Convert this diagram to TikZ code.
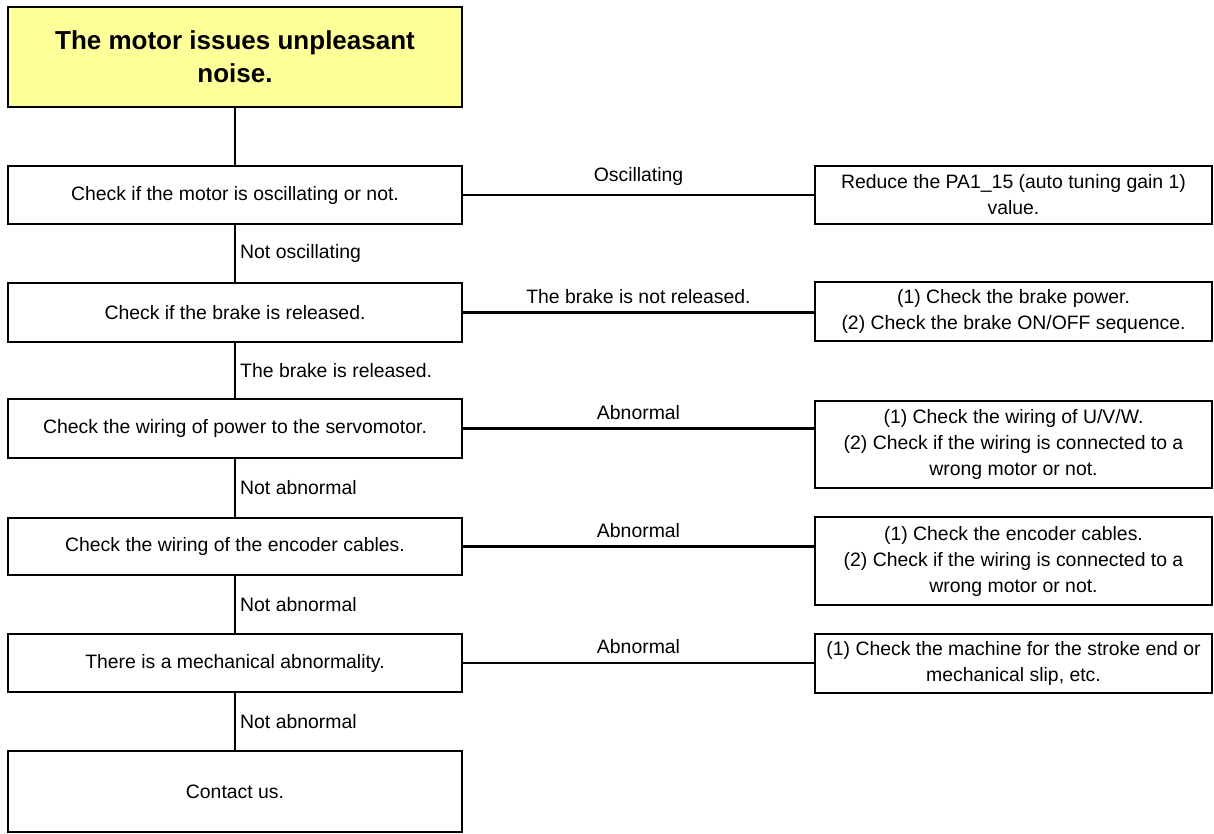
\documentclass[tikz,border=0pt]{standalone}
\usepackage{fontspec}
\setmainfont{Liberation Sans}
\definecolor{notefill}{HTML}{FFFF99}

\begin{document}
\begin{tikzpicture}[x=0.5pt, y=-0.5pt,
        box/.style={draw=black, line width=1.4pt, inner sep=0pt, align=center,
            font=\fontsize{9.7}{13}\selectfont},
        check/.style={box, minimum width=227pt},
        remedy/.style={box, minimum width=198.5pt},
        headline/.style={box, fill=notefill, minimum width=227pt, minimum height=50pt,
            font=\fontsize{13}{16.5}\selectfont\bfseries},
        link/.style={black, line width=1.2pt},
        tag/.style={font=\fontsize{9.7}{13}\selectfont, inner sep=2pt}]
        \useasboundingbox (0, 0) rectangle (1214, 834);

        \node (0) at (235, 57)[headline] {The motor issues unpleasant\\noise.};

        \node (1) at (235, 195)[check, minimum height=29pt] {Check if the motor is oscillating or not.};
        \node (1f) at (1013.5, 195)[remedy, minimum height=29pt] {Reduce the PA1\_15 (auto tuning gain 1)\\value.};

        \node (2) at (235, 312.5)[check, minimum height=29.5pt] {Check if the brake is released.};
        \node (2f) at (1013.5, 311.5)[remedy, minimum height=29.5pt] {(1) Check the brake power.\\(2) Check the brake ON/OFF sequence.};

        \node (3) at (235, 428.5)[check, minimum height=29.5pt] {Check the wiring of power to the servomotor.};
        \node (3f) at (1013.5, 444.5)[remedy, minimum height=43.5pt] {(1) Check the wiring of U/V/W.\\(2) Check if the wiring is connected to a\\wrong motor or not.};

        \node (4) at (235, 546.5)[check, minimum height=28.5pt] {Check the wiring of the encoder cables.};
        \node (4f) at (1013.5, 561)[remedy, minimum height=44pt] {(1) Check the encoder cables.\\(2) Check if the wiring is connected to a\\wrong motor or not.};

        \node (5) at (235, 663)[check, minimum height=29pt] {There is a mechanical abnormality.};
        \node (5f) at (1013.5, 663.5)[remedy, minimum height=29.5pt] {(1) Check the machine for the stroke end or\\mechanical slip, etc.};

        \node (6) at (235, 791.5)[check, minimum height=40.5pt] {Contact us.};

        \draw[link] (0) -- (1);
        \draw[link] (1) -- (2) node[tag, midway, right] {Not oscillating};
        \draw[link] (2) -- (3) node[tag, midway, right] {The brake is released.};
        \draw[link] (3) -- (4) node[tag, midway, right] {Not abnormal};
        \draw[link] (4) -- (5) node[tag, midway, right] {Not abnormal};
        \draw[link] (5) -- (6) node[tag, midway, right] {Not abnormal};

        \draw[link] (1.east) -- (1.east -| 1f.west) node[tag, midway, above=2pt] {Oscillating};
        \draw[link] (2.east) -- (2.east -| 2f.west) node[tag, midway, above=2pt] {The brake is not released.};
        \draw[link] (3.east) -- (3.east -| 3f.west) node[tag, midway, above=2pt] {Abnormal};
        \draw[link] (4.east) -- (4.east -| 4f.west) node[tag, midway, above=2pt] {Abnormal};
        \draw[link] (5.east) -- (5.east -| 5f.west) node[tag, midway, above=2pt] {Abnormal};
    \end{tikzpicture}
\end{document}
